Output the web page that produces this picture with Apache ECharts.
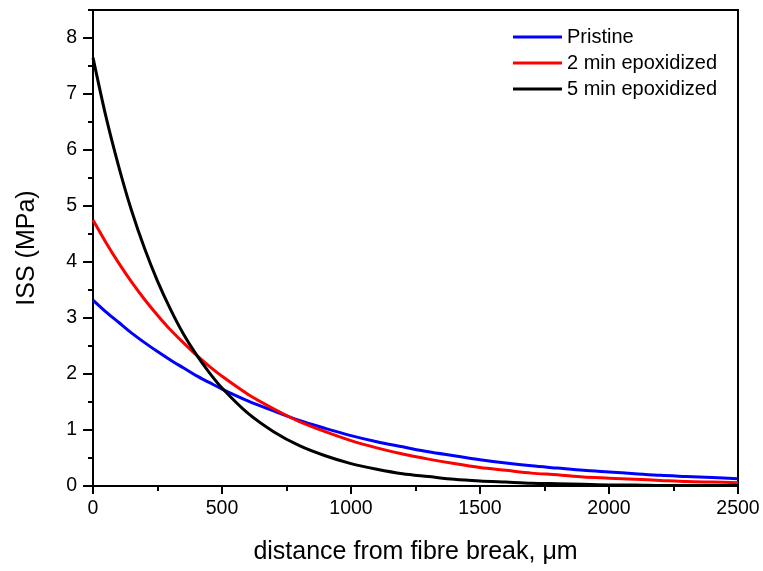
<!DOCTYPE html>
<html>
<head>
<meta charset="utf-8">
<script src="https://cdn.jsdelivr.net/npm/echarts@6/dist/echarts.min.js"></script>
<style>
  html, body { margin: 0; padding: 0; background: #fff; }
  #chart { width: 763px; height: 571px; }
</style>
</head>
<body>
<div id="chart"></div>
<script>
// distance from fibre break (um)
let distance = [0, 50, 100, 150, 200, 250, 300, 350, 400, 450, 500, 600, 700, 800, 900, 1000,
    1100, 1200, 1300, 1400, 1500, 1600, 1700, 1800, 1900, 2000, 2100, 2200, 2300, 2400, 2500];

// ISS (MPa)
let pristine = [3.32, 3.11, 2.92, 2.73, 2.56, 2.4, 2.25, 2.11, 1.97, 1.85, 1.73, 1.52, 1.34, 1.17, 1.03, 0.9,
    0.79, 0.7, 0.61, 0.54, 0.47, 0.41, 0.36, 0.32, 0.28, 0.25, 0.22, 0.19, 0.17, 0.15, 0.13];
let epox2 = [4.75, 4.35, 3.98, 3.64, 3.33, 3.05, 2.79, 2.56, 2.34, 2.14, 1.96, 1.64, 1.38, 1.15, 0.97, 0.81,
    0.68, 0.57, 0.48, 0.4, 0.33, 0.28, 0.23, 0.2, 0.16, 0.14, 0.12, 0.1, 0.08, 0.07, 0.06];
let epox5 = [7.65, 6.6, 5.7, 4.91, 4.24, 3.66, 3.16, 2.72, 2.35, 2.03, 1.75, 1.3, 0.97, 0.72, 0.54, 0.4,
    0.3, 0.22, 0.17, 0.12, 0.09, 0.07, 0.05, 0.04, 0.03, 0.02, 0.02, 0.01, 0.01, 0.01, 0.01];

let yMajor = [0, 1, 2, 3, 4, 5, 6, 7, 8];

const font = "'Liberation Sans', Arial, sans-serif";

let pairs = (ys) => distance.map((x, i) => [x, ys[i]]);

let lineSeries = (name, ys, color) => ({
    name: name,
    type: 'line',
    data: pairs(ys),
    smooth: 0.3,
    showSymbol: false,
    lineStyle: { color: color, width: 3 },
    itemStyle: { color: color }
});

let chart = echarts.init(document.getElementById('chart'));
chart.setOption({
    animation: false,
    backgroundColor: '#fff',
    grid: {
        left: 93, right: 25, top: 10, bottom: 85,
        show: true, borderColor: '#000', borderWidth: 2,
        containLabel: false
    },
    legend: {
        orient: 'vertical',
        left: 513, top: 27,
        padding: 0,
        itemWidth: 49, itemHeight: 3,
        itemGap: 6,
        icon: 'rect',
        textStyle: { fontFamily: font, fontSize: 20, color: '#000', padding: [0, 0, 0, 0] },
        data: ['Pristine', '2 min epoxidized', '5 min epoxidized']
    },
    xAxis: {
        type: 'value',
        min: 0, max: 2500, interval: 500,
        name: 'distance from fibre break, \u03bcm',
        nameLocation: 'middle',
        nameGap: 54,
        nameTextStyle: { fontFamily: font, fontSize: 25, color: '#000' },
        axisLine: { lineStyle: { color: '#000', width: 2 } },
        axisTick: { length: 8, lineStyle: { color: '#000', width: 2 } },
        minorTick: { show: true, splitNumber: 2, length: 5, lineStyle: { color: '#000', width: 2 } },
        axisLabel: { fontFamily: font, fontSize: 19.5, color: '#000', margin: 13, formatter: (v) => String(v) },
        splitLine: { show: false }
    },
    yAxis: [{
        type: 'value',
        min: 0, max: 8.5,
        name: 'ISS (MPa)',
        nameLocation: 'middle',
        nameGap: 53,
        nameTextStyle: { fontFamily: font, fontSize: 25, color: '#000' },
        axisLine: { lineStyle: { color: '#000', width: 2 } },
        axisTick: { customValues: yMajor, length: 10, lineStyle: { color: '#000', width: 2 } },
        axisLabel: { customValues: yMajor, fontFamily: font, fontSize: 19.5, color: '#000', margin: 16 },
        splitLine: { show: false }
    }, {
        type: 'value',
        position: 'left',
        offset: 0,
        min: 0, max: 8.5, interval: 0.5,
        axisLine: { show: false },
        axisTick: { show: true, length: 5, lineStyle: { color: '#000', width: 2 } },
        axisLabel: { show: false },
        splitLine: { show: false }
    }],
    series: [
        lineSeries('Pristine', pristine, '#0000ff'),
        lineSeries('2 min epoxidized', epox2, '#ff0000'),
        lineSeries('5 min epoxidized', epox5, '#000000')
    ]
});
</script>
</body>
</html>
